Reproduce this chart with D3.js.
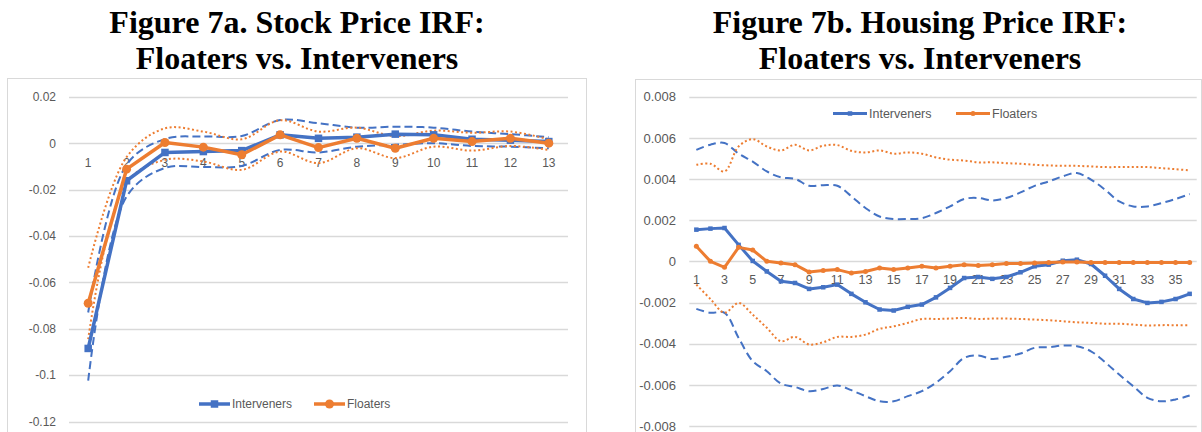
<!DOCTYPE html>
<html>
<head>
<meta charset="utf-8">
<script src="https://cdn.jsdelivr.net/npm/d3@7/dist/d3.min.js"></script>
<style>
  html, body { margin: 0; padding: 0; background: #fff; }
  svg { display: block; }
</style>
</head>
<body>
<svg id="chart" width="1202" height="432"></svg>
<script>
// ---------------- DATA ----------------
// Figure 7a: Stock price IRF (periods 1..13)
const stockPeriods = [1, 2, 3, 4, 5, 6, 7, 8, 9, 10, 11, 12, 13];
const stockInterveners = [-0.0885, -0.0162, -0.0040, -0.0036, -0.0032, 0.0036, 0.0021, 0.0026, 0.0039, 0.0036, 0.0017, 0.0013, 0.0007];
const stockIntervenersUpper = [-0.0730, -0.0093, 0.0018, 0.0029, 0.0031, 0.0100, 0.0086, 0.0067, 0.0071, 0.0067, 0.0050, 0.0039, 0.0026];
const stockIntervenersLower = [-0.1024, -0.0230, -0.0107, -0.0103, -0.0098, -0.0029, -0.0040, -0.0015, -0.0007, 0.0000, -0.0012, -0.0015, -0.0022];
const stockFloaters = [-0.0690, -0.0112, 0.0003, -0.0017, -0.0050, 0.0036, -0.0019, 0.0021, -0.0022, 0.0021, 0.0007, 0.0021, 0.0000];
const stockFloatersUpper = [-0.0537, -0.0060, 0.0064, 0.0050, 0.0017, 0.0099, 0.0050, 0.0067, 0.0030, 0.0054, 0.0045, 0.0050, 0.0017];
const stockFloatersLower = [-0.0845, -0.0170, -0.0072, -0.0079, -0.0115, -0.0036, -0.0086, -0.0022, -0.0064, -0.0015, -0.0032, -0.0012, -0.0029];
const stockYTicks = [0.02, 0, -0.02, -0.04, -0.06, -0.08, -0.1, -0.12];
const stockXTicks = [1, 2, 3, 4, 5, 6, 7, 8, 9, 10, 11, 12, 13];

// Figure 7b: Housing price IRF (periods 1..36)
const housePeriods = [1, 2, 3, 4, 5, 6, 7, 8, 9, 10, 11, 12, 13, 14, 15, 16, 17, 18, 19, 20, 21, 22, 23, 24, 25, 26, 27, 28, 29, 30, 31, 32, 33, 34, 35, 36];
const houseInterveners = [0.00154, 0.00159, 0.00162, 0.00080, 0.00002, -0.00049, -0.00097, -0.00105, -0.00134, -0.00126, -0.00113, -0.00158, -0.00199, -0.00234, -0.00239, -0.00221, -0.00210, -0.00175, -0.00129, -0.00081, -0.00076, -0.00085, -0.00076, -0.00053, -0.00024, -0.00016, 0.00003, 0.00008, -0.00013, -0.00070, -0.00134, -0.00183, -0.00202, -0.00197, -0.00183, -0.00158];
const houseIntervenersUpper = [0.00542, 0.00567, 0.00575, 0.00523, 0.00485, 0.00437, 0.00408, 0.00401, 0.00367, 0.00370, 0.00367, 0.00316, 0.00259, 0.00218, 0.00206, 0.00206, 0.00210, 0.00235, 0.00267, 0.00303, 0.00308, 0.00296, 0.00308, 0.00335, 0.00367, 0.00388, 0.00413, 0.00429, 0.00397, 0.00348, 0.00291, 0.00267, 0.00267, 0.00283, 0.00303, 0.00327];
const houseIntervenersLower = [-0.00231, -0.00250, -0.00250, -0.00372, -0.00485, -0.00534, -0.00594, -0.00610, -0.00631, -0.00620, -0.00603, -0.00626, -0.00655, -0.00680, -0.00680, -0.00655, -0.00631, -0.00590, -0.00534, -0.00469, -0.00458, -0.00474, -0.00464, -0.00448, -0.00420, -0.00417, -0.00409, -0.00412, -0.00437, -0.00490, -0.00550, -0.00607, -0.00663, -0.00680, -0.00671, -0.00652];
const houseFloaters = [0.00073, 0.00000, -0.00029, 0.00068, 0.00055, 0.00000, -0.00008, -0.00016, -0.00052, -0.00044, -0.00040, -0.00057, -0.00049, -0.00032, -0.00040, -0.00032, -0.00024, -0.00032, -0.00024, -0.00016, -0.00020, -0.00016, -0.00011, -0.00011, -0.00008, -0.00005, -0.00003, -0.00003, -0.00005, -0.00005, -0.00005, -0.00005, -0.00005, -0.00005, -0.00005, -0.00005];
const houseFloatersUpper = [0.00469, 0.00474, 0.00437, 0.00558, 0.00594, 0.00558, 0.00539, 0.00566, 0.00539, 0.00562, 0.00565, 0.00537, 0.00529, 0.00539, 0.00523, 0.00529, 0.00523, 0.00505, 0.00494, 0.00490, 0.00481, 0.00481, 0.00477, 0.00474, 0.00469, 0.00466, 0.00464, 0.00464, 0.00461, 0.00458, 0.00458, 0.00458, 0.00458, 0.00453, 0.00448, 0.00442];
const houseFloatersLower = [-0.00113, -0.00183, -0.00250, -0.00202, -0.00259, -0.00323, -0.00388, -0.00367, -0.00404, -0.00393, -0.00367, -0.00367, -0.00356, -0.00328, -0.00316, -0.00299, -0.00280, -0.00280, -0.00278, -0.00275, -0.00280, -0.00278, -0.00278, -0.00280, -0.00283, -0.00286, -0.00291, -0.00296, -0.00299, -0.00303, -0.00303, -0.00307, -0.00312, -0.00310, -0.00310, -0.00310];
const houseYTicks = [0.008, 0.006, 0.004, 0.002, 0, -0.002, -0.004, -0.006, -0.008];
const houseXTicks = [1, 3, 5, 7, 9, 11, 13, 15, 17, 19, 21, 23, 25, 27, 29, 31, 33, 35];

const seriesNames = ["Interveners", "Floaters"];
const titleA = ["Figure 7a. Stock Price IRF:", "Floaters vs. Interveners"];
const titleB = ["Figure 7b. Housing Price IRF:", "Floaters vs. Interveners"];

// ---------------- STYLE ----------------
const BLUE = "#4472C4", ORANGE = "#ED7D31", GRID = "#D9D9D9", TEXT = "#595959";
const svg = d3.select("#chart");

function drawChart(cfg) {
  const g = svg.append("g");
  // border box
  g.append("rect")
    .attr("x", cfg.box[0] + 0.5).attr("y", cfg.box[1] + 0.5)
    .attr("width", cfg.box[2] - cfg.box[0]).attr("height", cfg.box[3] - cfg.box[1])
    .attr("fill", "none").attr("stroke", GRID).attr("stroke-width", 1);

  // titles
  cfg.title.forEach((t, i) => {
    svg.append("text")
      .attr("x", cfg.titleX).attr("y", cfg.titleY[i])
      .attr("text-anchor", "middle")
      .attr("font-family", "'Liberation Serif', 'Times New Roman', serif")
      .attr("font-weight", "bold").attr("font-size", 32)
      .attr("fill", "#000").text(t);
  });

  const x = d3.scaleBand().domain(cfg.periods).range(cfg.xRange);
  const y = d3.scaleLinear().domain(cfg.yDomain).range(cfg.yRange);
  const cx = d => x(d) + x.bandwidth() / 2;

  // gridlines
  g.append("g").selectAll("line").data(cfg.yTicks).join("line")
    .attr("x1", cfg.xRange[0]).attr("x2", cfg.xRange[1])
    .attr("y1", d => Math.round(y(d)) + 0.5).attr("y2", d => Math.round(y(d)) + 0.5)
    .attr("stroke", GRID).attr("stroke-width", 1.3);

  // y axis labels
  const yAxis = d3.axisLeft(y).tickValues(cfg.yTicks).tickSize(0).tickPadding(0)
    .tickFormat(d => String(d));
  const ya = g.append("g").attr("transform", `translate(${cfg.yLabelX},0)`).call(yAxis);
  ya.select(".domain").remove();
  ya.selectAll("text").attr("font-family", "'Liberation Sans', Arial, sans-serif")
    .attr("font-size", cfg.yFont).attr("fill", TEXT);

  // x axis labels at zero line
  const xAxis = d3.axisBottom(x).tickValues(cfg.xTicks).tickSize(0).tickPadding(cfg.xPad);
  const xa = g.append("g").attr("transform", `translate(0,${y(0)})`).call(xAxis);
  xa.select(".domain").remove();
  xa.selectAll("text").attr("font-family", "'Liberation Sans', Arial, sans-serif")
    .attr("font-size", cfg.xFont).attr("fill", TEXT);

  const lineLinear = d3.line().x((d, i) => cx(cfg.periods[i])).y(d => y(d));
  const lineSmooth = d3.line().x((d, i) => cx(cfg.periods[i])).y(d => y(d)).curve(d3.curveCatmullRom.alpha(0.5));

  // bands
  const bands = [
    { data: cfg.intUp, color: BLUE, dash: cfg.dashBlue },
    { data: cfg.intLo, color: BLUE, dash: cfg.dashBlue },
    { data: cfg.floUp, color: ORANGE, dash: cfg.dashOrange },
    { data: cfg.floLo, color: ORANGE, dash: cfg.dashOrange }
  ];
  bands.forEach(b => {
    g.append("path").datum(b.data)
      .attr("d", lineSmooth).attr("fill", "none")
      .attr("stroke", b.color).attr("stroke-width", cfg.bandWidth)
      .attr("stroke-dasharray", b.dash);
  });

  // main lines
  g.append("path").datum(cfg.intMain).attr("d", lineLinear).attr("fill", "none")
    .attr("stroke", BLUE).attr("stroke-width", cfg.mainWidth).attr("stroke-linejoin", "round");
  g.append("g").selectAll("rect").data(cfg.intMain).join("rect")
    .attr("x", (d, i) => cx(cfg.periods[i]) - cfg.sq / 2)
    .attr("y", d => y(d) - cfg.sq / 2)
    .attr("width", cfg.sq).attr("height", cfg.sq).attr("fill", BLUE);

  g.append("path").datum(cfg.floMain).attr("d", lineLinear).attr("fill", "none")
    .attr("stroke", ORANGE).attr("stroke-width", cfg.mainWidth).attr("stroke-linejoin", "round");
  g.append("g").selectAll("circle").data(cfg.floMain).join("circle")
    .attr("cx", (d, i) => cx(cfg.periods[i])).attr("cy", d => y(d))
    .attr("r", cfg.cr).attr("fill", ORANGE);

  // legend
  const leg = g.append("g");
  cfg.legend.forEach((L, i) => {
    const col = i === 0 ? BLUE : ORANGE;
    leg.append("line").attr("x1", L.x1).attr("x2", L.x2).attr("y1", cfg.legendY).attr("y2", cfg.legendY)
      .attr("stroke", col).attr("stroke-width", cfg.mainWidth);
    const mx = (L.x1 + L.x2) / 2;
    if (i === 0) {
      leg.append("rect").attr("x", mx - cfg.sq / 2).attr("y", cfg.legendY - cfg.sq / 2)
        .attr("width", cfg.sq).attr("height", cfg.sq).attr("fill", col);
    } else {
      leg.append("circle").attr("cx", mx).attr("cy", cfg.legendY).attr("r", cfg.cr).attr("fill", col);
    }
    leg.append("text").attr("x", L.x2 + 2).attr("y", cfg.legendY).attr("dy", "0.35em")
      .attr("font-family", "'Liberation Sans', Arial, sans-serif")
      .attr("font-size", cfg.legFont).attr("fill", TEXT).text(seriesNames[i]);
  });
}

drawChart({
  box: [7, 78, 586, 440],
  title: titleA, titleX: 297, titleY: [33, 69],
  periods: stockPeriods, xRange: [69, 568],
  yDomain: [-0.12, 0.02], yRange: [421.5, 96.8],
  yTicks: stockYTicks, xTicks: stockXTicks,
  yLabelX: 56, yFont: 12, xFont: 12, xPad: 15,
  intMain: stockInterveners, intUp: stockIntervenersUpper, intLo: stockIntervenersLower,
  floMain: stockFloaters, floUp: stockFloatersUpper, floLo: stockFloatersLower,
  mainWidth: 3.5, bandWidth: 2, dashBlue: "8,4", dashOrange: "2,2.5",
  sq: 7.5, cr: 4.5,
  legendY: 404, legFont: 12,
  legend: [{ x1: 199, x2: 230 }, { x1: 314, x2: 345 }]
});

drawChart({
  box: [635, 79, 1201, 440],
  title: titleB, titleX: 920, titleY: [33, 69],
  periods: housePeriods, xRange: [689.3, 1196.7],
  yDomain: [-0.008, 0.008], yRange: [426, 96.7],
  yTicks: houseYTicks, xTicks: houseXTicks,
  yLabelX: 676, yFont: 13, xFont: 12.5, xPad: 14,
  intMain: houseInterveners, intUp: houseIntervenersUpper, intLo: houseIntervenersLower,
  floMain: houseFloaters, floUp: houseFloatersUpper, floLo: houseFloatersLower,
  mainWidth: 3, bandWidth: 2, dashBlue: "8,4.5", dashOrange: "2,2.5",
  sq: 4.5, cr: 2.5,
  legendY: 113.5, legFont: 12.5,
  legend: [{ x1: 833, x2: 867 }, { x1: 956, x2: 990 }]
});
</script>
</body>
</html>
